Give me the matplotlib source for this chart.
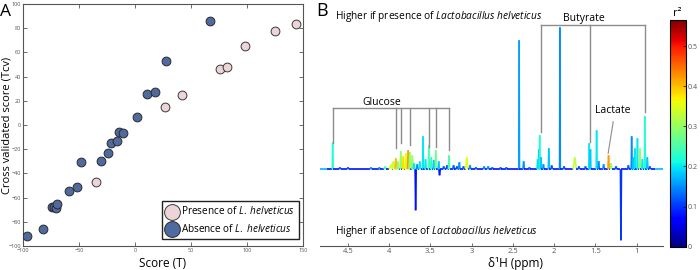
import numpy as np
import matplotlib as mpl
import matplotlib.pyplot as plt
from matplotlib.collections import LineCollection

plt.rcParams['font.family'] = ['Open Sans', 'DejaVu Sans']
plt.rcParams['mathtext.fontset'] = 'custom'
plt.rcParams['mathtext.rm'] = 'Open Sans'
plt.rcParams['mathtext.it'] = 'Open Sans:italic'

# ---- panel A: scores ----
presence_x = [-35, 27, 42, 76, 82, 98, 125, 144]
presence_y = [-47, 15, 24.5, 46, 48, 65, 78, 83.5]
absence_x = [-96, -82.5, -74.5, -72, -70.5, -69.5, -58.5, -51.5, -48.5, -30.5,
             -24.5, -21, -16.5, -14, -10.5, 1.5, 11, 18, 27.5, 67]
absence_y = [-91.5, -86, -67.5, -68, -69, -65.5, -54.5, -51, -30.5, -29.5,
             -23, -14.5, -13, -6, -6.5, 7, 26, 27, 53, 86]

# ---- panel B: spectrum peaks (ppm, height, half width, r2) ----
peak_ppm = [4.686, 4.60, 4.50, 4.22, 4.12, 4.05, 3.98, 3.95, 3.921, 3.895,
            3.860, 3.83, 3.80, 3.77, 3.751, 3.72, 3.70, 3.68, 3.66, 3.63,
            3.59, 3.56, 3.52, 3.49, 3.46, 3.436, 3.40, 3.39, 3.34, 3.30,
            3.275, 3.22, 3.18, 3.15, 3.10, 3.06, 3.02, 2.95, 2.85, 2.80,
            2.75, 2.65, 2.58, 2.425, 2.37, 2.30, 2.20, 2.186, 2.175, 2.16,
            2.13, 2.065, 2.03, 1.93, 1.88, 1.75, 1.70, 1.62, 1.575, 1.56,
            1.485, 1.46, 1.40, 1.34, 1.31, 1.25, 1.19, 1.10, 1.06, 1.04,
            1.02, 0.99, 0.96, 0.93, 0.90, 0.87, 0.84]
peak_height = [27, 2, 2, 2, 2, 3, 5, 8, 11, 8,
               18, 13, 16, 19, 17, 14, 6, -41, 5, 8,
               33, 10, 24, 12, 9, 19, 8, -6, 3, 4,
               14, 4, 3, 7, 3, 12, 4, 2, 3, 3,
               2, 2, 2, 129, 8, 2, 10, 20, 34, 12,
               5, 21, 4, 142, 3, 12, 3, 3, 26, 20,
               39, 8, 5, 14, 6, 3, -71, 4, 33, 12,
               21, 31, 21, 10, 53, 12, 3]
peak_width = [0.005, 0.01, 0.01, 0.01, 0.01, 0.015, 0.02, 0.015, 0.01, 0.01,
              0.008, 0.01, 0.01, 0.01, 0.008, 0.01, 0.01, 0.006, 0.01, 0.01,
              0.005, 0.008, 0.006, 0.008, 0.008, 0.006, 0.008, 0.008, 0.01, 0.01,
              0.006, 0.01, 0.01, 0.008, 0.01, 0.015, 0.01, 0.01, 0.01, 0.01,
              0.01, 0.01, 0.01, 0.004, 0.008, 0.01, 0.008, 0.005, 0.005, 0.006,
              0.008, 0.006, 0.01, 0.004, 0.01, 0.02, 0.01, 0.01, 0.005, 0.005,
              0.005, 0.008, 0.01, 0.008, 0.01, 0.01, 0.006, 0.01, 0.005, 0.006,
              0.005, 0.005, 0.006, 0.008, 0.005, 0.008, 0.01]
peak_r2 = [0.22, 0.12, 0.12, 0.15, 0.15, 0.25, 0.35, 0.33, 0.40, 0.30,
           0.30, 0.38, 0.35, 0.42, 0.30, 0.30, 0.20, 0.03, 0.15, 0.20,
           0.20, 0.20, 0.25, 0.22, 0.18, 0.27, 0.18, 0.05, 0.12, 0.12,
           0.25, 0.12, 0.12, 0.15, 0.12, 0.35, 0.15, 0.12, 0.15, 0.15,
           0.12, 0.12, 0.12, 0.16, 0.15, 0.12, 0.20, 0.18, 0.22, 0.18,
           0.15, 0.18, 0.12, 0.15, 0.12, 0.33, 0.12, 0.12, 0.20, 0.18,
           0.20, 0.15, 0.15, 0.42, 0.30, 0.12, 0.10, 0.12, 0.15, 0.18,
           0.20, 0.20, 0.30, 0.20, 0.22, 0.18, 0.12]
base_r2 = 0.08

glucose_ppm = [4.686, 3.921, 3.860, 3.751, 3.521, 3.436, 3.278]
glucose_end = [26.6, 21.3, 26.3, 24.3, 22.6, 22.6, 19.3]
butyrate_ppm = [2.165, 1.567, 0.896]
butyrate_end = [37.6, 27.6, 57.6]

W, H = 700, 270
fig = plt.figure(figsize=(W / 100, H / 100), dpi=100)


def px(x, y):
    return x / W, 1 - y / H


# panel A
ax = fig.add_axes([23 / W, 24 / H, 280 / W, 242 / H])
ax.scatter(presence_x, presence_y, s=40, color='#edd5d7', edgecolor='#3a3a3a',
           linewidth=0.7, zorder=3, label=r'Presence of $\it{L.}$ $\it{helveticus}$')
ax.scatter(absence_x, absence_y, s=40, color='#4e6a9e', edgecolor='#2a2a2a',
           linewidth=0.7, zorder=3, label=r'Absence of $\it{L.}$ $\it{helveticus}$')
ax.set_xlim(-100, 150)
ax.set_ylim(-100, 100)
ax.set_xticks([-100, -50, 0, 50, 100, 150])
ax.set_yticks(np.arange(-100, 101, 20))
ax.tick_params(direction='in', top=True, right=True, length=3, width=0.6,
               labelsize=4, labelcolor='#555555', pad=1.5, color='#555555')
for s in ax.spines.values():
    s.set_color('#555555')
    s.set_linewidth(0.8)
ax.set_xlabel('Score (T)', fontsize=8.5, labelpad=3)
ax.set_ylabel('Cross validated score (Tcv)', fontsize=8, va='center')
ax.yaxis.set_label_coords(-0.058, 0.5)
leg = ax.legend(loc='lower right', bbox_to_anchor=(0.985, 0.03), fontsize=7.2,
                markerscale=1.8, handletextpad=0.3, borderpad=0.4,
                labelspacing=0.55, fancybox=False, framealpha=1,
                handlelength=1.2, borderaxespad=0)
leg.get_frame().set_edgecolor('#222222')
leg.get_frame().set_linewidth(1.0)

# panel B
bx = fig.add_axes([320 / W, (H - 245.7) / H, 343 / W, 245.7 / H])
bx.set_xlim(4.84, 0.68)
bx.set_ylim(-76.4, 169.3)
for k in ['top', 'left', 'right']:
    bx.spines[k].set_visible(False)
bx.spines['bottom'].set_color('#555555')
bx.spines['bottom'].set_linewidth(0.8)
bx.set_yticks([])
bx.set_xticks([4.5, 4, 3.5, 3, 2.5, 2, 1.5, 1])
bx.set_xticklabels(['4.5', '4', '3.5', '3', '2.5', '2', '1.5', '1'])
bx.tick_params(axis='x', direction='in', length=2, width=0.6, labelsize=5.5,
               labelcolor='#555555', color='#555555', pad=2)

verts = [(4.84, 0, 0.17), (4.76, 0, base_r2)]
for p, h, w, r in sorted(zip(peak_ppm, peak_height, peak_width, peak_r2),
                         reverse=True):
    verts += [(p + w, 0, base_r2), (p, h, r), (p - w, 0, base_r2)]
verts += [(0.78, 0, base_r2), (0.68, 0, 0.17)]
verts = np.array(verts)
segs = np.stack([verts[:-1, :2], verts[1:, :2]], axis=1)
seg_r2 = np.maximum(verts[:-1, 2], verts[1:, 2])
norm = mpl.colors.Normalize(0, 0.565)
lc = LineCollection(segs, colors=plt.cm.jet(norm(seg_r2)), linewidths=1.2)
bx.add_collection(lc)

gray = '#8c8c8c'
bx.plot([glucose_ppm[0], glucose_ppm[-1]], [61, 61], color=gray, lw=1.0)
for p, e in zip(glucose_ppm, glucose_end):
    bx.plot([p, p], [61, e], color=gray, lw=1.0)
bx.plot([butyrate_ppm[0], butyrate_ppm[-1]], [144.3, 144.3], color=gray, lw=1.0)
for p, e in zip(butyrate_ppm, butyrate_end):
    bx.plot([p, p], [144.3, e], color=gray, lw=1.0)
bx.plot([1.284, 1.345], [47.6, 16], color=gray, lw=0.8)

fig.text(*px(381.7, 102.7), 'Glucose', fontsize=7.5, ha='center', va='center')
fig.text(*px(583.8, 18.3), 'Butyrate', fontsize=7.5, ha='center', va='center')
fig.text(*px(612.5, 110.7), 'Lactate', fontsize=7.5, ha='center', va='center')
fig.text(*px(335, 16.7), r'Higher if presence of $\it{Lactobacillus}$ $\it{helveticus}$',
         fontsize=7.3, ha='left', va='center')
fig.text(*px(335, 231.7), r'Higher if absence of $\it{Lactobacillus}$ $\it{helveticus}$',
         fontsize=7.3, ha='left', va='center')
fig.text(*px(516, 263), 'δ¹H (ppm)', fontsize=8.5, ha='center', va='center')

# colorbar
cax = fig.add_axes([670 / W, (H - 246.7) / H, 15.7 / W, 226.7 / H])
cb = fig.colorbar(mpl.cm.ScalarMappable(norm=norm, cmap='jet'), cax=cax)
cb.set_ticks([0, 0.1, 0.2, 0.3, 0.4, 0.5])
cb.set_ticklabels(['0', '0.1', '0.2', '0.3', '0.4', '0.5'])
cax.tick_params(direction='in', length=2, width=0.5, labelsize=5,
                labelcolor='#555555', pad=1.5)
cb.outline.set_linewidth(0.8)
fig.text(*px(677, 13), 'r²', fontsize=8, ha='center', va='center')

fig.text(*px(0, 12), 'A', fontsize=12.5, ha='left', va='center')
fig.text(*px(316, 11), 'B', fontsize=13, ha='left', va='center')

fig.savefig('out.png', dpi=100)
